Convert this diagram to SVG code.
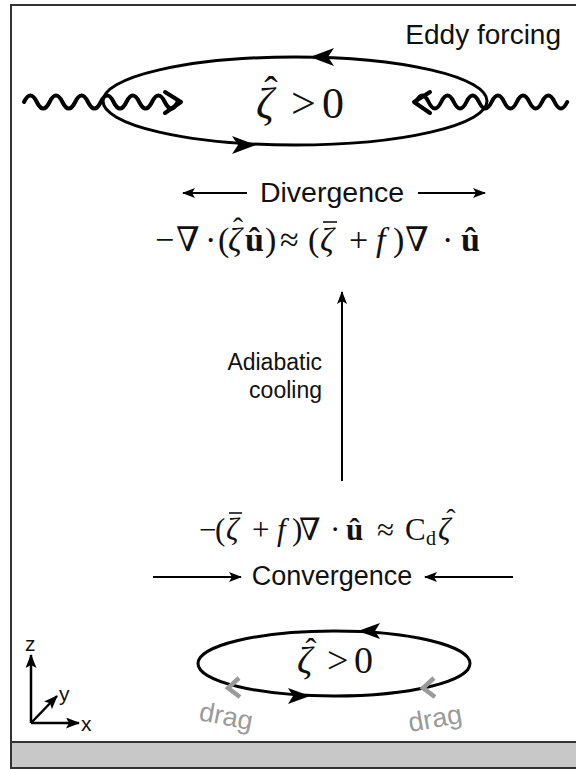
<svg xmlns="http://www.w3.org/2000/svg" width="576" height="769" viewBox="0 0 576 769">
<style>
.sans{font-family:"Liberation Sans",Arial,sans-serif;fill:#111}
.math{font-family:"Liberation Serif","DejaVu Serif",serif;fill:#111}
.it{font-style:italic}
.bf{font-weight:bold}
.bar{stroke:#111;stroke-width:1.6}
.loop{fill:none;stroke:#000;stroke-width:3}
.wave{fill:none;stroke:#000;stroke-width:4;stroke-linecap:round;stroke-linejoin:round}
.flow{fill:none;stroke:#000;stroke-width:2}
.axis{fill:none;stroke:#000;stroke-width:2.5}
.head{fill:#000}
.drag{fill:none;stroke:#9a9a9a;stroke-width:4.5;stroke-linecap:butt;stroke-linejoin:miter}
.dragt{font-family:"Liberation Sans",Arial,sans-serif;fill:#9a9a9a;font-size:27px}
</style>
<defs>
<marker id="ah" viewBox="0 0 13 10" refX="12" refY="5" markerWidth="13" markerHeight="10" markerUnits="userSpaceOnUse" orient="auto">
<path d="M0,0 L13,5 L0,10 L3,5 Z" fill="#000"/>
</marker>
<marker id="ax" viewBox="0 0 14 11" refX="13" refY="5.5" markerWidth="14" markerHeight="11" markerUnits="userSpaceOnUse" orient="auto">
<path d="M0,0 L14,5.5 L0,11 L3,5.5 Z" fill="#000"/>
</marker>
</defs>
<g id="frame">
<rect x="11" y="5" width="600" height="763" fill="#fff" stroke="#333" stroke-width="2"/>
<rect x="11" y="742" width="600" height="26" fill="#c8c8c8" stroke="#333" stroke-width="2"/>
</g>
<g id="upper-eddy">
<ellipse class="loop" cx="295" cy="101" rx="192" ry="44"/>
<path class="head" d="M310,57 L334,48 L328,57 L334,66 Z"/>
<path class="head" d="M256,145 L232,136 L238,145 L232,154 Z"/>
<text class="math" font-size="44"><tspan class="it" x="256" y="118">ζ</tspan><tspan x="271" y="104" font-size="40" text-anchor="middle">ˆ</tspan><tspan x="291" y="118">&gt;</tspan><tspan x="322" y="118">0</tspan></text>
</g>
<g id="eddy-forcing">
<text class="sans" x="561" y="44" text-anchor="end" font-size="28">Eddy forcing</text>
<path class="wave" d="M24,102 q6.4,-13 12.8,0 t12.8,0 t12.8,0 t12.8,0 t12.8,0 t12.8,0 t12.8,0 t12.8,0 t12.8,0 t12.8,0 t12.8,0 t12.8,0"/>
<path class="wave" d="M165,92 L181,102 L165,113"/>
<path class="wave" d="M416,102 q6.3,-13 12.6,0 t12.6,0 t12.6,0 t12.6,0 t12.6,0 t12.6,0 t12.6,0 t12.6,0 t12.6,0 t12.6,0 t12.6,0 t12.6,0"/>
<path class="wave" d="M430,92 L414,102 L430,113"/>
</g>
<g id="divergence">
<text class="sans" x="332" y="202" text-anchor="middle" font-size="28.5">Divergence</text>
<text class="math" font-size="34"><tspan x="155" y="251">−</tspan><tspan x="176" y="251">∇</tspan><tspan x="205" y="251">·</tspan><tspan x="218" y="251">(</tspan><tspan class="it" x="228" y="251">ζ</tspan><tspan x="238" y="238" font-size="30" text-anchor="middle">ˆ</tspan><tspan class="bf" x="245" y="251">û</tspan><tspan x="265" y="251">)</tspan><tspan x="280" y="251">≈</tspan><tspan x="308" y="251">(</tspan><tspan class="it" x="320" y="251">ζ</tspan><tspan x="349" y="251">+</tspan><tspan class="it" x="376" y="251">f</tspan><tspan x="393" y="251">)</tspan><tspan x="405" y="251">∇</tspan><tspan x="442" y="251">·</tspan><tspan class="bf" x="461" y="251">û</tspan></text>
<line class="bar" x1="323" y1="222" x2="337" y2="222"/>
</g>
<g id="adiabatic">
<text class="sans" x="322" y="370" text-anchor="end" font-size="23">Adiabatic</text>
<text class="sans" x="322" y="398" text-anchor="end" font-size="23">cooling</text>
</g>
<g id="convergence">
<text class="math" font-size="31"><tspan x="199" y="540">−</tspan><tspan x="215" y="540">(</tspan><tspan class="it" x="226" y="540">ζ</tspan><tspan x="252" y="540">+</tspan><tspan class="it" x="277" y="540">f</tspan><tspan x="292" y="540">)</tspan><tspan x="299" y="540">∇</tspan><tspan x="330" y="540">·</tspan><tspan class="bf" x="346" y="540">û</tspan><tspan x="377" y="540">≈</tspan><tspan x="405" y="540">C</tspan><tspan x="426" y="545" font-size="20">d</tspan><tspan class="it" x="438" y="540">ζ</tspan><tspan x="451" y="528" font-size="28" text-anchor="middle">ˆ</tspan></text>
<line class="bar" x1="229" y1="513" x2="242" y2="513"/>
<text class="sans" x="332" y="585" text-anchor="middle" font-size="27">Convergence</text>
</g>
<g id="lower-eddy">
<ellipse class="loop" cx="334" cy="663.5" rx="136" ry="32.5"/>
<path class="head" d="M358,631 L380,623 L375,631 L380,639 Z"/>
<path class="head" d="M310,696 L288,688 L293,696 L288,704 Z"/>
<text class="math" font-size="38"><tspan class="it" x="297" y="673">ζ</tspan><tspan x="311" y="662" font-size="34" text-anchor="middle">ˆ</tspan><tspan x="327" y="673">&gt;</tspan><tspan x="354" y="673">0</tspan></text>
<path class="drag" d="M239,678 L228,688 L240,697"/>
<path class="drag" d="M434,678 L423,688 L435,697"/>
<text class="dragt" transform="translate(198,720) rotate(11)">drag</text>
<text class="dragt" transform="translate(410,732) rotate(-10)">drag</text>
</g>
<g id="axes">
<path class="axis" d="M31,723 V655" marker-end="url(#ax)"/>
<path class="axis" d="M31,723 H79" marker-end="url(#ax)"/>
<path class="axis" d="M31,723 L57,696" marker-end="url(#ax)"/>
<text class="sans" x="25" y="651" font-size="21">z</text>
<text class="sans" x="59" y="701" font-size="21">y</text>
<text class="sans" x="81" y="731" font-size="21">x</text>
</g>
<g id="connectors">
<path class="flow" d="M342,481 V292" marker-end="url(#ah)"/>
<path class="flow" d="M247,193 H183" marker-end="url(#ah)"/>
<path class="flow" d="M418,193 H485" marker-end="url(#ah)"/>
<path class="flow" d="M153,577 H241" marker-end="url(#ah)"/>
<path class="flow" d="M513,577 H425" marker-end="url(#ah)"/>
</g>
</svg>
